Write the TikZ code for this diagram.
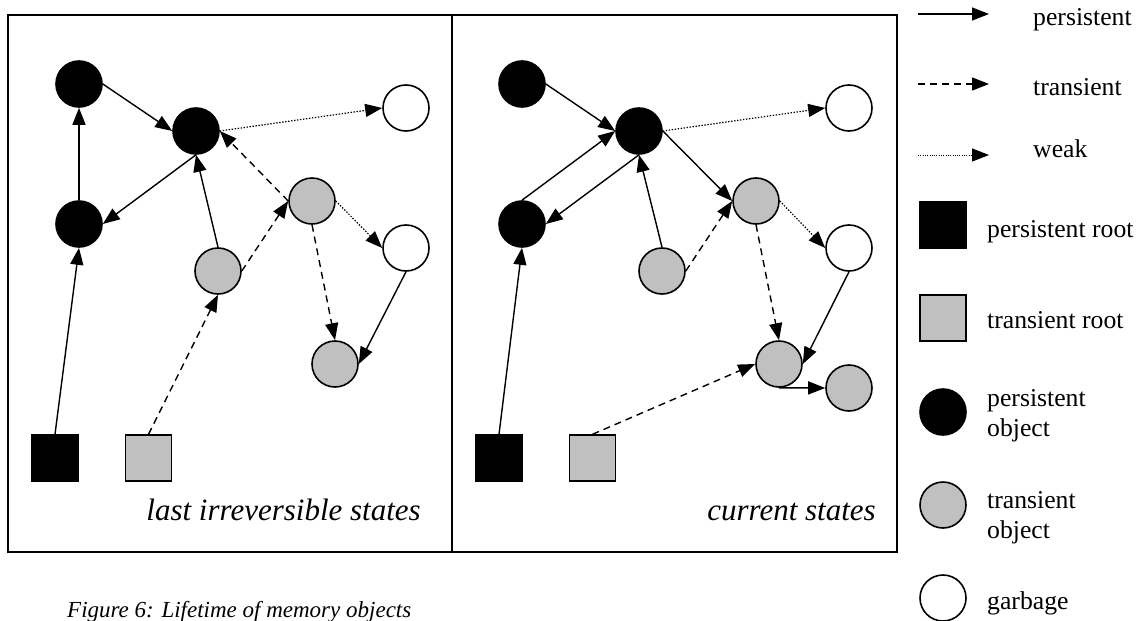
\documentclass[tikz,border=0pt]{standalone}
\usepackage{fontspec}
\setmainfont{Liberation Serif}
\usetikzlibrary{arrows.meta}
\definecolor{tgray}{HTML}{C0C0C0}
\begin{document}
\begin{tikzpicture}[x=1pt,y=-1pt,
  obj/.style={circle,draw=black,line width=1.6pt,minimum size=46pt,inner sep=0pt},
  pobj/.style={obj,fill=black},
  tobj/.style={obj,fill=tgray},
  gobj/.style={obj,fill=white},
  rootbox/.style={rectangle,draw=black,line width=1.4pt,minimum size=46pt,inner sep=0pt},
  proot/.style={rootbox,fill=black},
  troot/.style={rootbox,fill=tgray},
  tip/.style={-{Triangle[length=17pt,width=13pt]}},
  pers/.style={tip,line width=1.4pt},
  trans/.style={tip,line width=1.4pt,dash pattern=on 7pt off 5pt},
  weak/.style={tip,line width=1.2pt,dash pattern=on 1.4pt off 1.6pt},
  panel/.style={draw=black,line width=1.6pt},
  plabel/.style={font=\fontsize{31}{36}\selectfont\itshape,inner sep=0pt,anchor=base east},
  ltext/.style={font=\fontsize{25.7}{30}\selectfont,inner sep=0pt,anchor=base west,align=left}]

\useasboundingbox (0,0) rectangle (1146,621);

% two panels
\draw[panel] (8,15) rectangle (452,552);
\draw[panel] (452,15) rectangle (897,552);

% ---- last irreversible states ----
\node[pobj] (A) at (79,84) {};
\node[pobj] (B) at (196,131) {};
\node[gobj] (W) at (406,108) {};
\node[pobj] (C) at (79,224) {};
\node[tobj] (D) at (312,201) {};
\node[gobj] (E) at (406,248) {};
\node[tobj] (F) at (218,271) {};
\node[tobj] (G) at (335,364) {};
\node[proot] (PR) at (55,458) {};
\node[troot] (TR) at (148.5,458) {};

\draw[pers] (A.east) -- (B.west);
\draw[pers] (C.north) -- (A.south);
\draw[pers] (B.south) -- (C.east);
\draw[weak] (B.east) -- (W.west);
\draw[trans] (D.west) -- (B.east);
\draw[pers] (F.north) -- (B.south);
\draw[trans] (F.east) -- (D.west);
\draw[weak] (D.east) -- (E.west);
\draw[trans] (D.south) -- (G.north);
\draw[pers] (E.south) -- (G.east);
\draw[pers] (PR.north) -- (C.south);
\draw[trans] (TR.north) -- (F.south);

\node[plabel] (L1) at (421,520) {last irreversible states};

% ---- current states ----
\node[pobj] (A2) at (522,84) {};
\node[pobj] (B2) at (639,131) {};
\node[gobj] (W2) at (849,108) {};
\node[pobj] (C2) at (522,224) {};
\node[tobj] (D2) at (756,201) {};
\node[gobj] (E2) at (849,248) {};
\node[tobj] (F2) at (662,271) {};
\node[tobj] (G2) at (779,364) {};
\node[tobj] (H2) at (849,388) {};
\node[proot] (PR2) at (499,458) {};
\node[troot] (TR2) at (592.5,458) {};

\draw[pers] (A2.east) -- (B2.west);
\draw[pers] (C2.north) -- (B2.west);
\draw[pers] (B2.south) -- (C2.east);
\draw[weak] (B2.east) -- (W2.west);
\draw[pers] (B2.east) -- (D2.west);
\draw[pers] (F2.north) -- (B2.south);
\draw[trans] (F2.east) -- (D2.west);
\draw[weak] (D2.east) -- (E2.west);
\draw[trans] (D2.south) -- (G2.north);
\draw[pers] (E2.south) -- (G2.east);
\draw[pers] (G2.south) -- (H2.west);
\draw[pers] (PR2.north) -- (C2.south);
\draw[trans] (TR2.north) -- (G2.west);

\node[plabel] (L2) at (876,520) {current states};

% ---- legend ----
\coordinate (k1a) at (918,14);  \coordinate (k1b) at (989,14);
\coordinate (k2a) at (918,84);  \coordinate (k2b) at (989,84);
\coordinate (k3a) at (918,155); \coordinate (k3b) at (989,155);
\draw[pers] (k1a) -- (k1b);
\draw[trans] (k2a) -- (k2b);
\draw[weak,line width=1pt,dash pattern=on 1pt off 1.3pt] (k3a) -- (k3b);
\node[ltext] (t1) at (1033,25) {persistent};
\node[ltext] (t2) at (1033,95) {transient};
\node[ltext] (t3) at (1033,157) {weak};

\node[proot] (k4) at (943,225) {};
\node[ltext] (t4) at (987,237) {persistent root};
\node[troot] (k5) at (943,318) {};
\node[ltext] (t5) at (987,328) {transient root};
\node[pobj] (k6) at (943,412) {};
\node[ltext] (t6) at (987,436) {persistent\\object};
\node[tobj] (k7) at (943,505) {};
\node[ltext] (t7) at (987,538) {transient\\object};
\node[gobj] (k8) at (943,598) {};
\node[ltext] (t8) at (987,609) {garbage};

% caption
\node[font=\fontsize{23}{28}\selectfont\itshape,inner sep=0pt,anchor=base west] (cap) at (67,617) {Figure 6: Lifetime of memory objects};
\end{tikzpicture}
\end{document}
